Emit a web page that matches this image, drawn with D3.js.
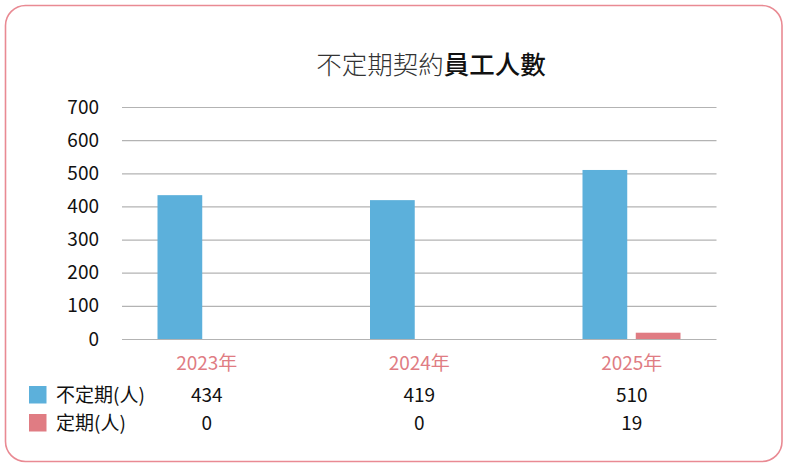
<!DOCTYPE html>
<html><head><meta charset="utf-8">
<script src="https://cdn.jsdelivr.net/npm/d3@7"></script>
<style>
html,body{margin:0;padding:0;background:#fff;}
svg{display:block;font-family:"Noto Sans CJK TC","Noto Sans",sans-serif;}
</style></head>
<body>
<svg id="chart" width="787" height="469"></svg>
<script>
const categories = ["2023年", "2024年", "2025年"];
const seriesNames = ["不定期(人)", "定期(人)"];
const irregular = [434, 419, 510];
const regular = [0, 0, 19];
const yTicks = [0, 100, 200, 300, 400, 500, 600, 700];
const titleLight = "不定期契約";
const titleBold = "員工人數";

const colors = ["#5cb0db", "#e07c83"];
const series = [irregular, regular];
const FONT = "'Noto Sans CJK TC','Noto Sans',sans-serif";

const svg = d3.select("#chart");

svg.append("rect")
  .attr("x", 5.5).attr("y", 5.5).attr("width", 776.5).attr("height", 456)
  .attr("rx", 20).attr("ry", 20)
  .attr("fill", "#fff").attr("stroke", "#e98a93").attr("stroke-width", 1.6);

const title = svg.append("text")
  .attr("x", 431).attr("y", 74).attr("text-anchor", "middle")
  .attr("font-size", 25.5);
title.append("tspan").attr("fill", "#333").attr("font-weight", 300).text(titleLight);
title.append("tspan").attr("fill", "#111").attr("font-weight", 500).text(titleBold);

const y = d3.scaleLinear().domain([0, 700]).range([339, 107]);
const x = d3.scaleBand().domain(categories).range([100.5, 738]).paddingInner(0).paddingOuter(0);
const xSub = d3.scaleBand().domain(d3.range(series.length)).range([57, 155]).paddingInner(0.16);

// gridlines + y labels
const yAxis = d3.axisLeft(y).tickValues(yTicks).tickSize(-(716.5 - 122)).tickPadding(23)
  .tickFormat(d3.format("d"));
const gAxis = svg.append("g").attr("transform", "translate(122,0)").call(yAxis);
gAxis.select(".domain").remove();
gAxis.selectAll(".tick line").attr("stroke", "#b3b3b3").attr("stroke-width", 1.2);
gAxis.selectAll(".tick text").attr("font-size", 19).attr("fill", "#111")
  .attr("font-family", FONT);

// bars
series.forEach((vals, si) => {
  svg.append("g").selectAll("rect").data(categories).join("rect")
    .attr("x", d => x(d) + xSub(si))
    .attr("width", xSub.bandwidth())
    .attr("y", (d, i) => y(vals[i]))
    .attr("height", (d, i) => y(0) - y(vals[i]))
    .attr("fill", colors[si]);
});

// x labels
const xAxis = d3.axisBottom(x).tickSize(0).tickPadding(0);
const gx = svg.append("g").attr("transform", "translate(0,363)").call(xAxis);
gx.select(".domain").remove();
gx.selectAll(".tick text").attr("font-size", 19).attr("fill", "#e07c83").attr("dy", "0.36em")
  .attr("font-family", FONT);

// data table
const rowY = [395, 423];
series.forEach((vals, si) => {
  svg.append("rect").attr("x", 29).attr("y", rowY[si] - 9).attr("width", 17.5).attr("height", 17.5)
    .attr("fill", colors[si]);
  svg.append("text").attr("x", 56).attr("y", rowY[si]).attr("dy", "0.36em")
    .attr("font-size", 19).attr("fill", "#111").text(seriesNames[si]);
  svg.append("g").selectAll("text").data(categories).join("text")
    .attr("x", d => x(d) + x.bandwidth() / 2)
    .attr("y", rowY[si]).attr("dy", "0.36em").attr("text-anchor", "middle")
    .attr("font-size", 19).attr("fill", "#111")
    .text((d, i) => vals[i]);
});
</script>
</body></html>
